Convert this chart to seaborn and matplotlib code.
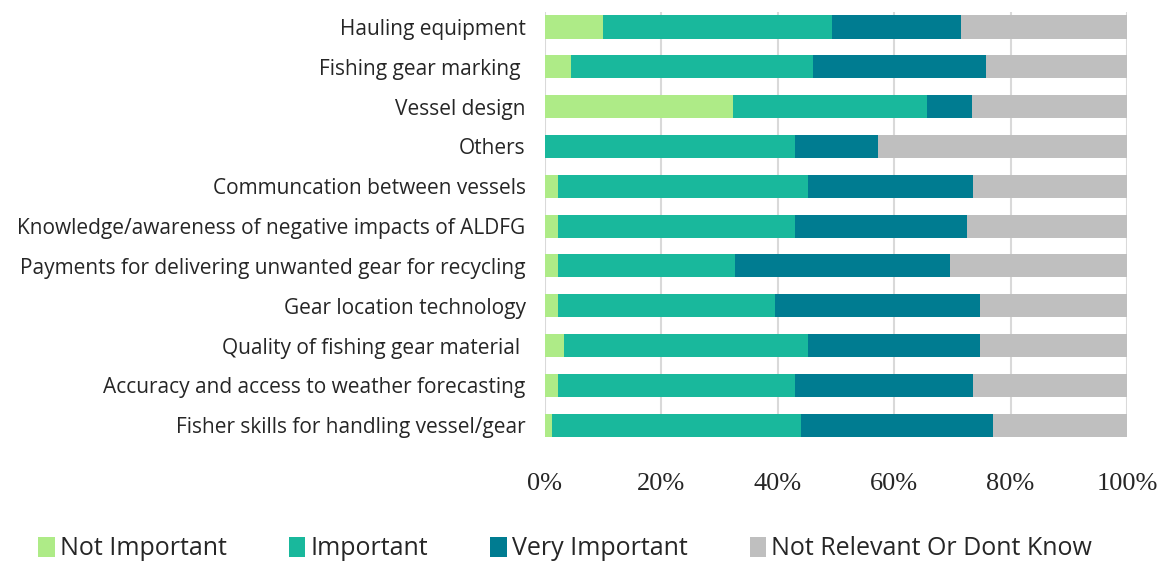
import matplotlib
matplotlib.use("Agg")
from matplotlib import pyplot as plt
from matplotlib.patches import Patch
import numpy as np
import pandas as pd
import seaborn as sns

# categories, top to bottom
factors = ["Hauling equipment", "Fishing gear marking ", "Vessel design", "Others",
           "Communcation between vessels",
           "Knowledge/awareness of negative impacts of ALDFG",
           "Payments for delivering unwanted gear for recycling",
           "Gear location technology", "Quality of fishing gear material ",
           "Accuracy and access to weather forecasting",
           "Fisher skills for handling vessel/gear"]

# shares in %
not_important = [10.0, 4.5, 32.3, 0.0, 2.3, 2.3, 2.3, 2.3, 3.3, 2.3, 1.2]
important = [39.4, 41.6, 33.3, 43.0, 42.9, 40.7, 30.3, 37.3, 41.9, 40.7, 42.8]
very_important = [22.1, 29.7, 7.7, 14.2, 28.4, 29.6, 37.0, 35.2, 29.6, 30.6, 33.0]
not_relevant = [28.5, 24.2, 26.7, 42.8, 26.4, 27.4, 30.4, 25.2, 25.2, 26.4, 23.0]

series = ["Not Important", "Important", "Very Important", "Not Relevant Or Dont Know"]
colors = ["#AEEB87", "#19B89C", "#007C91", "#BFBFBF"]

df = pd.DataFrame({"factor": factors,
                   series[0]: not_important, series[1]: important,
                   series[2]: very_important, series[3]: not_relevant})
totals = df[series].sum(axis=1)
for s in series:
    df[s] = df[s] / totals * 100
cum = df[series].cumsum(axis=1)

sns.set_style("white")
fig, ax = plt.subplots(figsize=(11.75, 5.64), dpi=100)
fig.subplots_adjust(left=0.4638, right=0.9591, top=0.979, bottom=0.225)

# draw the cumulative bars back to front so they stack
for s, c in reversed(list(zip(series, colors))):
    sns.barplot(x=cum[s], y=df["factor"], color=c, orient="h", saturation=1,
                width=0.58, linewidth=0, ax=ax)

ax.set_xlim(0, 100)
ax.set_ylim(len(factors) - 0.7, -0.38)
ax.set_xticks(np.arange(0, 101, 20))
ax.set_xticklabels([f"{v}%" for v in range(0, 101, 20)],
                   family="Liberation Serif", fontsize=19)
ax.set_yticks(range(len(factors)))
ax.set_yticklabels(factors, family="Open Sans", fontsize=15)
ax.tick_params(axis="x", length=0, pad=26)
ax.tick_params(axis="y", length=0, pad=14)
ax.set_xlabel("")
ax.set_ylabel("")
ax.grid(axis="x", color="#D9D9D9", linewidth=1.5)
ax.set_axisbelow(True)
for sp in ax.spines.values():
    sp.set_visible(False)

handles = [Patch(facecolor=c, edgecolor="none") for c in colors]
fig.legend(handles, series, loc="center", bbox_to_anchor=(0.481, 0.027), ncol=4,
           frameon=False, prop={"family": "Open Sans", "size": 18},
           handlelength=0.65, handleheight=0.85, handletextpad=0.2,
           columnspacing=2.5)

fig.savefig("out.png", dpi=100)
